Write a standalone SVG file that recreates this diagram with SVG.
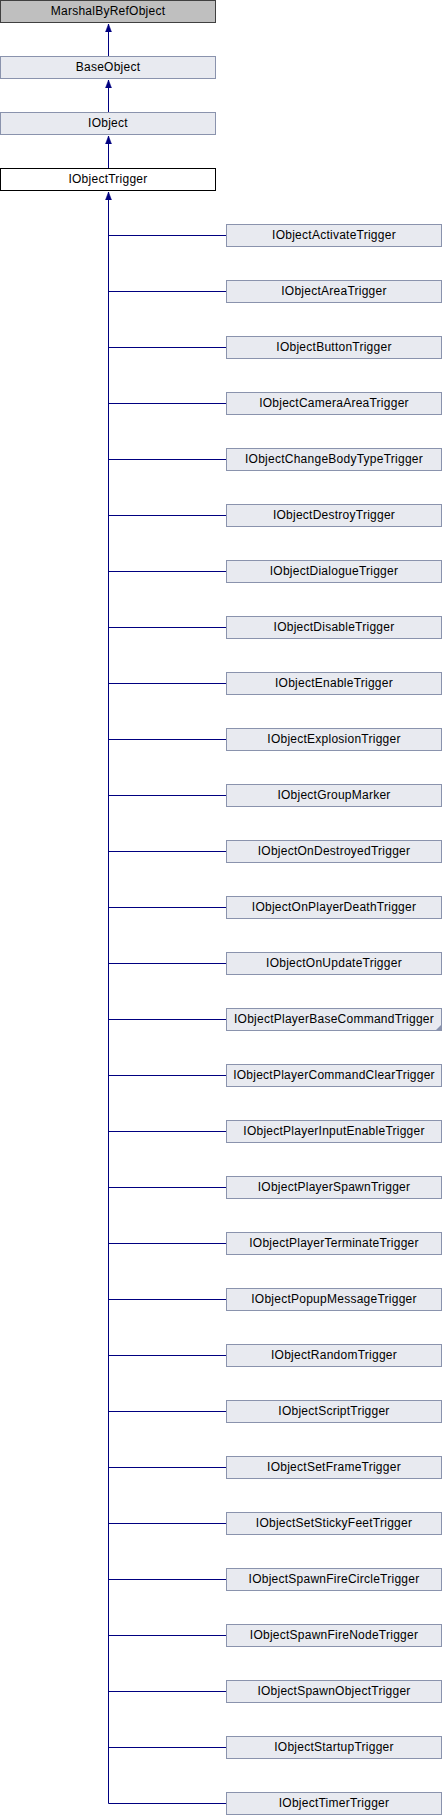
<svg xmlns="http://www.w3.org/2000/svg" width="442" height="1816" viewBox="0 0 442 1816">
<defs>
<style>
.n rect{fill:#e8eaf0;stroke:#8a93ad;stroke-width:1}
.g rect{fill:#bfbfbf;stroke:#404040;stroke-width:1}
.w rect{fill:#ffffff;stroke:#000000;stroke-width:1}
text{font-family:"Liberation Sans",Arial,sans-serif;font-size:12px;letter-spacing:0.25px;fill:#000;text-anchor:middle}
.c path,.c line{stroke:#000080;stroke-width:1;fill:none}
</style>
<marker id="ah" markerWidth="10" markerHeight="10" refX="8" refY="5" orient="auto" markerUnits="userSpaceOnUse">
<path d="M0,2 L8,5 L0,8 Z" fill="#000080" stroke="#000080" stroke-width="0.5"/>
</marker>
</defs>
<g class="c" id="connectors">
<line x1="108.5" y1="56" x2="108.5" y2="24" marker-end="url(#ah)"/>
<line x1="108.5" y1="112" x2="108.5" y2="80" marker-end="url(#ah)"/>
<line x1="108.5" y1="168" x2="108.5" y2="136" marker-end="url(#ah)"/>
<path d="M108.5,1803.5 L108.5,192" marker-end="url(#ah)"/>
<path d="M108.5,235.5H226 M108.5,291.5H226 M108.5,347.5H226 M108.5,403.5H226 M108.5,459.5H226 M108.5,515.5H226 M108.5,571.5H226 M108.5,627.5H226 M108.5,683.5H226 M108.5,739.5H226 M108.5,795.5H226 M108.5,851.5H226 M108.5,907.5H226 M108.5,963.5H226 M108.5,1019.5H226 M108.5,1075.5H226 M108.5,1131.5H226 M108.5,1187.5H226 M108.5,1243.5H226 M108.5,1299.5H226 M108.5,1355.5H226 M108.5,1411.5H226 M108.5,1467.5H226 M108.5,1523.5H226 M108.5,1579.5H226 M108.5,1635.5H226 M108.5,1691.5H226 M108.5,1747.5H226 M108.5,1803.5H226"/>
</g>
<g id="MarshalByRefObject" class="g"><rect x="0.5" y="0.5" width="215" height="22"/><text x="108" y="15">MarshalByRefObject</text></g>
<g id="BaseObject" class="n"><rect x="0.5" y="56.5" width="215" height="22"/><text x="108" y="71">BaseObject</text></g>
<g id="IObject" class="n"><rect x="0.5" y="112.5" width="215" height="22"/><text x="108" y="127">IObject</text></g>
<g id="IObjectTrigger" class="w"><rect x="0.5" y="168.5" width="215" height="22"/><text x="108" y="183">IObjectTrigger</text></g>
<g id="IObjectActivateTrigger" class="n"><rect x="226.5" y="224.5" width="215" height="22"/><text x="334" y="239">IObjectActivateTrigger</text></g>
<g id="IObjectAreaTrigger" class="n"><rect x="226.5" y="280.5" width="215" height="22"/><text x="334" y="295">IObjectAreaTrigger</text></g>
<g id="IObjectButtonTrigger" class="n"><rect x="226.5" y="336.5" width="215" height="22"/><text x="334" y="351">IObjectButtonTrigger</text></g>
<g id="IObjectCameraAreaTrigger" class="n"><rect x="226.5" y="392.5" width="215" height="22"/><text x="334" y="407">IObjectCameraAreaTrigger</text></g>
<g id="IObjectChangeBodyTypeTrigger" class="n"><rect x="226.5" y="448.5" width="215" height="22"/><text x="334" y="463">IObjectChangeBodyTypeTrigger</text></g>
<g id="IObjectDestroyTrigger" class="n"><rect x="226.5" y="504.5" width="215" height="22"/><text x="334" y="519">IObjectDestroyTrigger</text></g>
<g id="IObjectDialogueTrigger" class="n"><rect x="226.5" y="560.5" width="215" height="22"/><text x="334" y="575">IObjectDialogueTrigger</text></g>
<g id="IObjectDisableTrigger" class="n"><rect x="226.5" y="616.5" width="215" height="22"/><text x="334" y="631">IObjectDisableTrigger</text></g>
<g id="IObjectEnableTrigger" class="n"><rect x="226.5" y="672.5" width="215" height="22"/><text x="334" y="687">IObjectEnableTrigger</text></g>
<g id="IObjectExplosionTrigger" class="n"><rect x="226.5" y="728.5" width="215" height="22"/><text x="334" y="743">IObjectExplosionTrigger</text></g>
<g id="IObjectGroupMarker" class="n"><rect x="226.5" y="784.5" width="215" height="22"/><text x="334" y="799">IObjectGroupMarker</text></g>
<g id="IObjectOnDestroyedTrigger" class="n"><rect x="226.5" y="840.5" width="215" height="22"/><text x="334" y="855">IObjectOnDestroyedTrigger</text></g>
<g id="IObjectOnPlayerDeathTrigger" class="n"><rect x="226.5" y="896.5" width="215" height="22"/><text x="334" y="911">IObjectOnPlayerDeathTrigger</text></g>
<g id="IObjectOnUpdateTrigger" class="n"><rect x="226.5" y="952.5" width="215" height="22"/><text x="334" y="967">IObjectOnUpdateTrigger</text></g>
<g id="IObjectPlayerBaseCommandTrigger" class="n"><rect x="226.5" y="1008.5" width="215" height="22"/><path d="M441.5,1024.5 L441.5,1030.5 L435.5,1030.5 Z" fill="#8a93ad" stroke="none"/><text x="334" y="1023">IObjectPlayerBaseCommandTrigger</text></g>
<g id="IObjectPlayerCommandClearTrigger" class="n"><rect x="226.5" y="1064.5" width="215" height="22"/><text x="334" y="1079">IObjectPlayerCommandClearTrigger</text></g>
<g id="IObjectPlayerInputEnableTrigger" class="n"><rect x="226.5" y="1120.5" width="215" height="22"/><text x="334" y="1135">IObjectPlayerInputEnableTrigger</text></g>
<g id="IObjectPlayerSpawnTrigger" class="n"><rect x="226.5" y="1176.5" width="215" height="22"/><text x="334" y="1191">IObjectPlayerSpawnTrigger</text></g>
<g id="IObjectPlayerTerminateTrigger" class="n"><rect x="226.5" y="1232.5" width="215" height="22"/><text x="334" y="1247">IObjectPlayerTerminateTrigger</text></g>
<g id="IObjectPopupMessageTrigger" class="n"><rect x="226.5" y="1288.5" width="215" height="22"/><text x="334" y="1303">IObjectPopupMessageTrigger</text></g>
<g id="IObjectRandomTrigger" class="n"><rect x="226.5" y="1344.5" width="215" height="22"/><text x="334" y="1359">IObjectRandomTrigger</text></g>
<g id="IObjectScriptTrigger" class="n"><rect x="226.5" y="1400.5" width="215" height="22"/><text x="334" y="1415">IObjectScriptTrigger</text></g>
<g id="IObjectSetFrameTrigger" class="n"><rect x="226.5" y="1456.5" width="215" height="22"/><text x="334" y="1471">IObjectSetFrameTrigger</text></g>
<g id="IObjectSetStickyFeetTrigger" class="n"><rect x="226.5" y="1512.5" width="215" height="22"/><text x="334" y="1527">IObjectSetStickyFeetTrigger</text></g>
<g id="IObjectSpawnFireCircleTrigger" class="n"><rect x="226.5" y="1568.5" width="215" height="22"/><text x="334" y="1583">IObjectSpawnFireCircleTrigger</text></g>
<g id="IObjectSpawnFireNodeTrigger" class="n"><rect x="226.5" y="1624.5" width="215" height="22"/><text x="334" y="1639">IObjectSpawnFireNodeTrigger</text></g>
<g id="IObjectSpawnObjectTrigger" class="n"><rect x="226.5" y="1680.5" width="215" height="22"/><text x="334" y="1695">IObjectSpawnObjectTrigger</text></g>
<g id="IObjectStartupTrigger" class="n"><rect x="226.5" y="1736.5" width="215" height="22"/><text x="334" y="1751">IObjectStartupTrigger</text></g>
<g id="IObjectTimerTrigger" class="n"><rect x="226.5" y="1792.5" width="215" height="22"/><text x="334" y="1807">IObjectTimerTrigger</text></g>
</svg>
